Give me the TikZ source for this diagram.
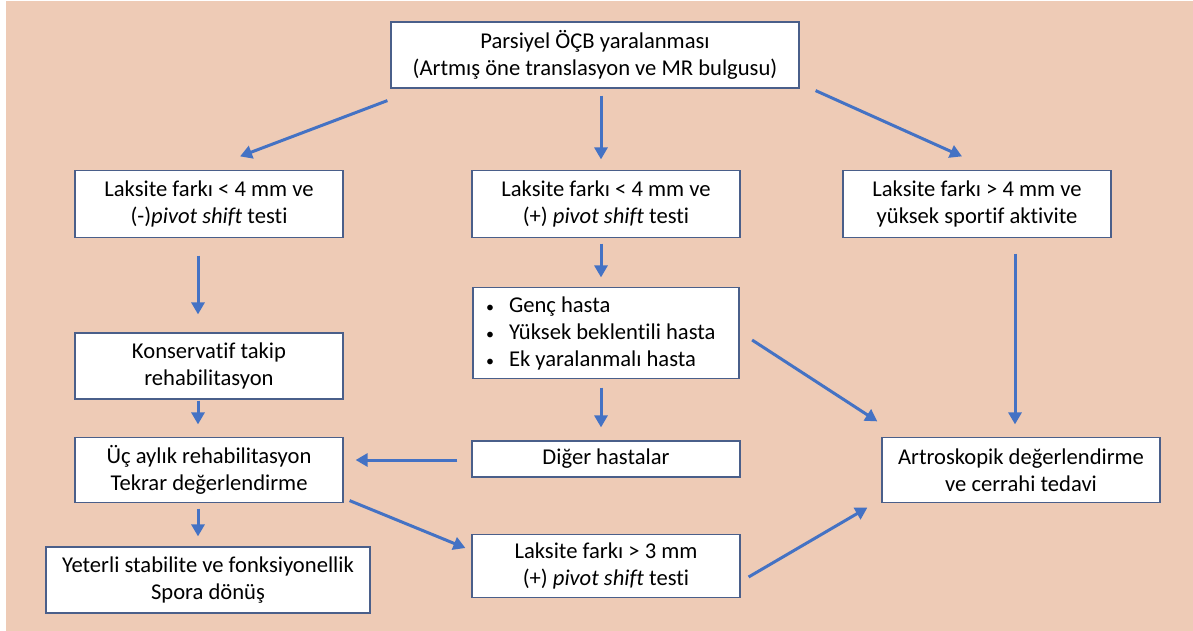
\documentclass[tikz,border=0pt]{standalone}
\usepackage{fontspec}
\setmainfont{Carlito}[Ligatures=NoCommon]
\usetikzlibrary{arrows.meta,calc}
\definecolor{peach}{HTML}{EECBB6}
\definecolor{arrowblue}{HTML}{4472C4}
\definecolor{boxline}{HTML}{4A5F8A}
\tikzset{
  box/.style={draw=boxline,line width=0.6pt,fill=white,align=center,inner sep=0pt,
    font=\fontsize{11.3}{13.5}\selectfont},
  arr/.style={draw=arrowblue,line width=1.5pt,-{Triangle[length=6pt,width=6.5pt]}}
}
\newcommand{\blt}{\makebox[11.5pt][l]{\footnotesize•}}
\begin{document}
\begin{tikzpicture}[x=0.5pt,y=-0.5pt]
  \useasboundingbox (0,0) rectangle (1193,631);
  \fill[peach] (6,1) rectangle (1193,631);

  \node[box,minimum width=204pt,minimum height=33pt] (top) at (595,55)
    {Parsiyel ÖÇB yaralanması\\(Artmış öne translasyon ve MR bulgusu)};
  \node[box,minimum width=134pt,minimum height=33.5pt] (L1) at (209,204)
    {Laksite farkı < 4 mm ve\\(-)\textit{pivot shift} testi};
  \node[box,minimum width=134pt,minimum height=33.5pt] (M1) at (606,204)
    {Laksite farkı < 4 mm ve\\(+) \textit{pivot shift} testi};
  \node[box,minimum width=134pt,minimum height=33.5pt] (R1) at (977,204)
    {Laksite farkı > 4 mm ve\\yüksek sportif aktivite};
  \node[box,minimum width=134pt,minimum height=33pt] (L2) at (209,366)
    {Konservatif takip\\rehabilitasyon};
  \node[box,align=flush left,text width=120pt,inner xsep=6.5pt,minimum height=45.5pt] (M2) at (606,333)
    {\blt Genç hasta\\\blt Yüksek beklentili hasta\\\blt Ek yaralanmalı hasta};
  \node[box,minimum width=134pt,minimum height=32.5pt] (L3) at (209,470)
    {Üç aylık rehabilitasyon\\Tekrar değerlendirme};
  \node[box,minimum width=134pt,minimum height=18pt] (M3) at (606,459)
    {Diğer hastalar};
  \node[box,minimum width=139pt,minimum height=32.5pt] (R3) at (1021,470)
    {Artroskopik değerlendirme\\ve cerrahi tedavi};
  \node[box,minimum width=162pt,minimum height=33pt] (L4) at (208,580)
    {Yeterli stabilite ve fonksiyonellik\\Spora dönüş};
  \node[box,minimum width=134pt,minimum height=31.5pt] (M4) at (606,566)
    {Laksite farkı > 3 mm\\(+) \textit{pivot shift} testi};

  \draw[arr] ([shift={(-3,12)}]top.south west) -- ([shift={(31,-13.5)}]L1.north);
  \draw[arr] ([shift={(6,7)}]top.south) -- ([shift={(-5,-10.5)}]M1.north);
  \draw[arr] ([shift={(16,2)}]top.south east) -- ([shift={(-15,-13.5)}]R1.north);
  \draw[arr] ([shift={(-11,17.5)}]L1.south) -- ([shift={(-11,-18)}]L2.north);
  \draw[arr] ([shift={(-5,5.5)}]M1.south) -- ([shift={(-5,-9.5)}]M2.north);
  \draw[arr] ([shift={(38,15.5)}]R1.south) -- ([shift={(-6,-12.5)}]R3.north);
  \draw[arr] ([shift={(12.5,7)}]M2.east) -- ([shift={(-4,-15.5)}]R3.north west);
  \draw[arr] ([shift={(-11,1)}]L2.south) -- ([shift={(-11,-12.5)}]L3.north);
  \draw[arr] ([shift={(-5,8.5)}]M2.south) -- ([shift={(-5,-13)}]M3.north);
  \draw[arr] ([shift={(-14,1)}]M3.west) -- ([shift={(12,-10)}]L3.east);
  \draw[arr] ([shift={(-11,5.5)}]L3.south) -- ([shift={(-10,-10)}]L4.north);
  \draw[arr] ([shift={(6,-2.5)}]L3.south east) -- ([shift={(-6,-18)}]M4.west);
  \draw[arr] ([shift={(8,11)}]M4.east) -- ([shift={(-14,4.5)}]R3.south west);
\end{tikzpicture}
\end{document}
